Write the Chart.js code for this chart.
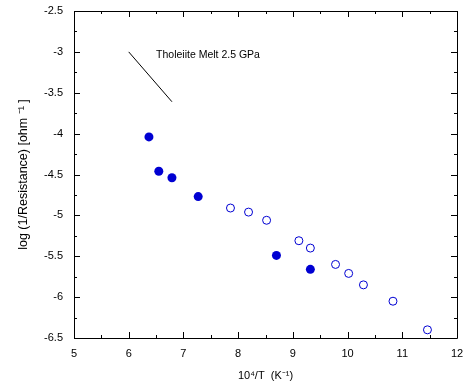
<!DOCTYPE html>
<html>
<head>
<meta charset="utf-8">
<script src="https://cdn.jsdelivr.net/npm/chart.js@4/dist/chart.umd.min.js"></script>
<style>
  html, body { margin: 0; padding: 0; background: #fff; }
  canvas { display: block; }
</style>
</head>
<body>
<canvas id="chart" width="468" height="387"></canvas>
<script>
// filled circles
const filledX = [6.37, 6.55, 6.79, 7.27, 8.70, 9.32];
const filledY = [-4.04, -4.46, -4.54, -4.77, -5.49, -5.66];

// open circles
const openX = [7.86, 8.19, 8.52, 9.11, 9.32, 9.78, 10.02, 10.29, 10.83, 11.46];
const openY = [-4.91, -4.96, -5.06, -5.31, -5.40, -5.60, -5.71, -5.85, -6.05, -6.40];

// tholeiite melt reference line
const meltX = [6.0, 6.79];
const meltY = [-3.0, -3.61];
const meltLabel = 'Tholeiite Melt 2.5 GPa';
const meltLabelPos = [6.5, -3.04];

const xTicks = [5, 6, 7, 8, 9, 10, 11, 12];
const yTicks = [-6.5, -6, -5.5, -5, -4.5, -4, -3.5, -3, -2.5];

const blue = 'rgb(0,0,210)';
const font = { family: 'Liberation Sans, Arial, sans-serif', size: 11 };

const toPts = (xs, ys) => xs.map((x, i) => ({ x: x, y: ys[i] }));

// inward ticks + frame, drawn from the scales
const frame = {
  id: 'frame',
  afterDraw(chart) {
    const { ctx, chartArea: a, scales: { x, y } } = chart;
    ctx.save();
    ctx.strokeStyle = '#000';
    ctx.lineWidth = 1;
    ctx.beginPath();
    ctx.rect(Math.round(a.left) + 0.5, Math.round(a.top) + 0.5,
             Math.round(a.right - a.left), Math.round(a.bottom - a.top));
    ctx.stroke();
    ctx.beginPath();
    for (let i = 0; i < xTicks.length; i++) {
      const list = [xTicks[i]];
      if (i < xTicks.length - 1) list.push(xTicks[i] + 0.5);
      list.forEach((v, k) => {
        const px = Math.round(x.getPixelForValue(v)) + 0.5;
        const len = k === 0 ? 6 : 3;
        ctx.moveTo(px, a.bottom); ctx.lineTo(px, a.bottom - len);
        ctx.moveTo(px, a.top); ctx.lineTo(px, a.top + len);
      });
    }
    for (let i = 0; i < yTicks.length; i++) {
      const list = [yTicks[i]];
      if (i < yTicks.length - 1) list.push(yTicks[i] + 0.25);
      list.forEach((v, k) => {
        const py = Math.round(y.getPixelForValue(v)) + 0.5;
        const len = k === 0 ? 6 : 3;
        ctx.moveTo(a.left, py); ctx.lineTo(a.left + len, py);
        ctx.moveTo(a.right, py); ctx.lineTo(a.right - len, py);
      });
    }
    ctx.stroke();
    ctx.fillStyle = '#000';
    ctx.font = '10.5px ' + font.family;
    ctx.textAlign = 'left';
    ctx.textBaseline = 'middle';
    ctx.fillText(meltLabel, x.getPixelForValue(meltLabelPos[0]), y.getPixelForValue(meltLabelPos[1]));
    ctx.restore();
  }
};

new Chart(document.getElementById('chart'), {
  type: 'scatter',
  data: {
    datasets: [
      {
        label: 'melt',
        data: toPts(meltX, meltY),
        showLine: true,
        borderColor: '#000',
        borderWidth: 1,
        pointRadius: 0
      },
      {
        label: 'filled',
        data: toPts(filledX, filledY),
        backgroundColor: blue,
        borderColor: blue,
        pointRadius: 4.5,
        borderWidth: 0
      },
      {
        label: 'open',
        data: toPts(openX, openY),
        backgroundColor: '#fff',
        borderColor: blue,
        pointRadius: 4,
        borderWidth: 1
      }
    ]
  },
  options: {
    responsive: false,
    animation: false,
    devicePixelRatio: 1,
    layout: { autoPadding: false, padding: { top: 11, right: 11, left: 12, bottom: 0 } },
    plugins: { legend: { display: false }, tooltip: { enabled: false } },
    scales: {
      x: {
        type: 'linear',
        min: 5, max: 12,
        afterFit: s => { s.height = 49; s.paddingLeft = 0; s.paddingRight = 0; },
        afterBuildTicks: s => { s.ticks = xTicks.map(v => ({ value: v })); },
        grid: { display: false, drawTicks: false },
        border: { display: false },
        ticks: { color: '#000', font: font, padding: 9, callback: v => String(v) },
        title: { display: true, text: '10\u2074/T  (K\u207B\u00B9)', color: '#000', font: font, padding: { top: 8 } }
      },
      y: {
        type: 'linear',
        min: -6.5, max: -2.5,
        afterFit: s => { s.width = 62; s.paddingTop = 0; s.paddingBottom = 0; },
        afterBuildTicks: s => { s.ticks = yTicks.map(v => ({ value: v })); },
        grid: { display: false, drawTicks: false },
        border: { display: false },
        ticks: { color: '#000', font: font, padding: 11, callback: v => String(v) },
        title: { display: true, text: 'log (1/Resistance) [ohm \u207B\u00B9 ]', color: '#000', font: { family: font.family, size: 12.5 }, padding: { bottom: 4 } }
      }
    }
  },
  plugins: [frame]
});
</script>
</body>
</html>
